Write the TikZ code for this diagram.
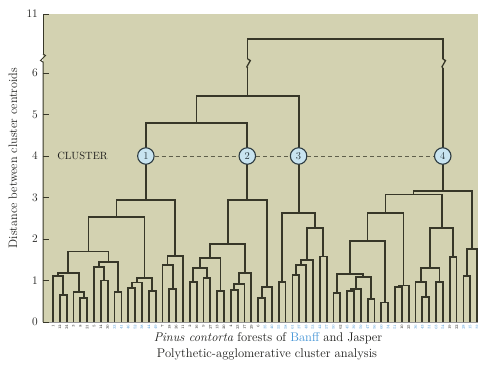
\documentclass[tikz,border=0pt]{standalone}
\usepackage{fontspec}
\usepackage{xcolor}
\definecolor{panel}{RGB}{211,210,177}
\definecolor{dline}{RGB}{55,55,40}
\definecolor{lblue}{RGB}{70,150,215}
\definecolor{cfill}{RGB}{200,228,240}
\definecolor{cdraw}{RGB}{45,60,66}
\definecolor{txt}{RGB}{30,30,28}
\definecolor{dashc}{RGB}{95,95,75}
\newcommand{\dmerge}[5]{\draw[dend] (#1,#2) |- (#3,#5) -- (#3,#4);}
\begin{document}
\begin{tikzpicture}[x=1pt,y=1pt,
  dend/.style={draw=dline, line width=1.8pt, line join=miter},
  axisline/.style={draw=dline, line width=1pt},
  ticklbl/.style={anchor=east, text=txt, font=\fontsize{11.5}{13}\selectfont, inner sep=0pt},
  clus/.style={circle, draw=cdraw, fill=cfill, line width=1.1pt, minimum size=16.5pt, inner sep=0pt, text=cdraw, font=\fontsize{10.5}{12}\selectfont},
  dashln/.style={draw=dashc, line width=0.9pt, dash pattern=on 4pt off 3pt},
  leaflbl/.style={rotate=90, anchor=east, inner sep=0pt, font=\fontsize{3.8}{4}\selectfont}]
\useasboundingbox (0,0) rectangle (478,368);
\fill[white] (0,0) rectangle (478,368);
\fill[panel] (43,46) rectangle (478,354);
% axis
\draw[axisline] (43,354) -- (43,314);
\draw[axisline] (43,314) -- (45.5,312.5) -- (40.5,307.5) -- (43,306) -- (43,46);
\draw[draw=black!40, line width=0.8pt] (43,46) -- (478,46);
\foreach \v in {0,...,6} {
  \draw[axisline] (43,46+41.5*\v) -- (49,46+41.5*\v);
  \node[ticklbl] (t\v) at (38,46+41.5*\v) {\v};
}
\draw[axisline] (43,354) -- (49,354);
\node[ticklbl] (t11) at (38,354) {11};
\node[rotate=90, text=txt, font=\fontsize{12.2}{14}\selectfont] (ylab) at (13,210) {Distance between cluster centroids};
\node[text=txt, font=\fontsize{10.5}{12}\selectfont, inner sep=0pt] (cl) at (82.5,212) {CLUSTER};
% caption
\node[text=txt, font=\fontsize{12.6}{14}\selectfont, inner sep=0pt] (cap1) at (268,30) {\textit{Pinus contorta} forests of \textcolor{lblue}{Banff} and Jasper};
\node[text=txt, font=\fontsize{12.6}{14}\selectfont, inner sep=0pt] (cap2) at (267,13.5) {Polythetic-agglomerative cluster analysis};
\begin{scope}[shift={(53,46)}, x=6.84pt, y=41.5pt]
% cluster 1
\dmerge{1}{0}{2}{0}{0.65}
\dmerge{0}{0}{1.5}{0.65}{1.1}
\dmerge{4}{0}{5}{0}{0.58}
\dmerge{3}{0}{4.5}{0.58}{0.72}
\dmerge{0.75}{1.1}{3.75}{0.72}{1.18}
\dmerge{7}{0}{8}{0}{1.0}
\dmerge{6}{0}{7.5}{1.0}{1.33}
\dmerge{9}{0}{10}{0}{0.72}
\dmerge{6.75}{1.33}{9.5}{0.72}{1.45}
\dmerge{2.25}{1.18}{8.125}{1.45}{1.70}
\dmerge{11}{0}{12}{0}{0.82}
\dmerge{11.5}{0.82}{13}{0}{0.95}
\dmerge{14}{0}{15}{0}{0.75}
\dmerge{12.25}{0.95}{14.5}{0.75}{1.06}
\dmerge{5.1875}{1.70}{13.375}{1.06}{2.53}
\dmerge{17}{0}{18}{0}{0.8}
\dmerge{16}{0}{17.5}{0.8}{1.37}
\dmerge{16.75}{1.37}{19}{0}{1.59}
\dmerge{9.28125}{2.53}{17.875}{1.59}{2.94}
% cluster 2
\dmerge{20}{0}{21}{0}{0.97}
\dmerge{22}{0}{23}{0}{1.06}
\dmerge{20.5}{0.97}{22.5}{1.06}{1.3}
\dmerge{24}{0}{25}{0}{0.75}
\dmerge{21.5}{1.3}{24.5}{0.75}{1.55}
\dmerge{26}{0}{27}{0}{0.78}
\dmerge{26.5}{0.78}{28}{0}{0.92}
\dmerge{27.25}{0.92}{29}{0}{1.18}
\dmerge{23}{1.55}{28.125}{1.18}{1.88}
\dmerge{30}{0}{31}{0}{0.58}
\dmerge{30.5}{0.58}{32}{0}{0.84}
\dmerge{25.5625}{1.88}{31.25}{0.84}{2.94}
\dmerge{13.578}{2.94}{28.406}{2.94}{4.8}
% cluster 3
\dmerge{33}{0}{34}{0}{0.97}
\dmerge{35}{0}{36}{0}{1.13}
\dmerge{35.5}{1.13}{37}{0}{1.37}
\dmerge{36.25}{1.37}{38}{0}{1.5}
\dmerge{39}{0}{40}{0}{1.58}
\dmerge{37.125}{1.5}{39.5}{1.58}{2.27}
\dmerge{33.5}{0.97}{38.3125}{2.27}{2.62}
\dmerge{20.992}{4.8}{35.906}{2.62}{5.45}
% cluster 4
\dmerge{41}{0}{42}{0}{0.7}
\dmerge{43}{0}{44}{0}{0.75}
\dmerge{43.5}{0.75}{45}{0}{0.8}
\dmerge{46}{0}{47}{0}{0.55}
\dmerge{44.25}{0.8}{46.5}{0.55}{1.08}
\dmerge{41.5}{0.7}{45.375}{1.08}{1.15}
\dmerge{48}{0}{49}{0}{0.47}
\dmerge{43.4375}{1.15}{48.5}{0.47}{1.95}
\dmerge{50}{0}{51}{0}{0.85}
\dmerge{50.5}{0.85}{52}{0}{0.88}
\dmerge{45.96875}{1.95}{51.25}{0.88}{2.62}
\dmerge{54}{0}{55}{0}{0.6}
\dmerge{53}{0}{54.5}{0.6}{0.97}
\dmerge{56}{0}{57}{0}{0.97}
\dmerge{53.75}{0.97}{56.5}{0.97}{1.3}
\dmerge{58}{0}{59}{0}{1.57}
\dmerge{55.125}{1.3}{58.5}{1.57}{2.27}
\dmerge{48.609}{2.62}{56.8125}{2.27}{3.07}
\dmerge{60}{0}{61}{0}{1.1}
\dmerge{60.5}{1.1}{62}{0}{1.75}
\dmerge{52.711}{3.07}{61.25}{1.75}{3.15}
% top join with breaks
\draw[dend] (28.449,5.45) -- (28.449,6.12);
\draw[dend] (28.449,6.34) |- (56.98,6.82) -- (56.98,6.34);
\draw[dend] (56.98,3.15) -- (56.98,6.12);
\draw[dline, line width=1.3pt] (28.449,6.12) -- (28.339,6.15) -- (28.85,6.30) -- (28.449,6.34);
\draw[dline, line width=1.3pt] (56.98,6.12) -- (56.87,6.15) -- (57.38,6.30) -- (56.98,6.34);
% clusters
\node[clus] (k1) at (13.578,4) {1};
\node[clus] (k2) at (28.406,4) {2};
\node[clus] (k3) at (35.906,4) {3};
\node[clus] (k4) at (56.98,4) {4};
\draw[dashln] (k1) -- (k2);
\draw[dashln] (k2) -- (k3);
\draw[dashln] (k3) -- (k4);
% leaf labels
\foreach \n [count=\i from 0] in {1,12,24,3,8,21,5,14,30,33,41,46,52,38,44,49,7,18,26,11,2,16,9,27,13,20,4,23,17,29,6,35,40,55,58,61,37,48,53,42,57,50,62,45,39,59,47,56,60,34,51,10,25,36,43,31,63,54,19,22,28,15,32} {
  \pgfmathtruncatemacro{\isb}{(\i>=9 && \i<=15) || (\i>=31 && \i<=41) || (\i>=43 && \i<=50) || (\i>=53 && \i<=57) || (\i>=60) ? 1 : 0}
  \ifnum\isb=1 \def\lc{lblue}\else\def\lc{txt}\fi
  \node[leaflbl, text=\lc] (L\i) at (\i,-0.06) {\n};
}
\end{scope}
\end{tikzpicture}
\end{document}
